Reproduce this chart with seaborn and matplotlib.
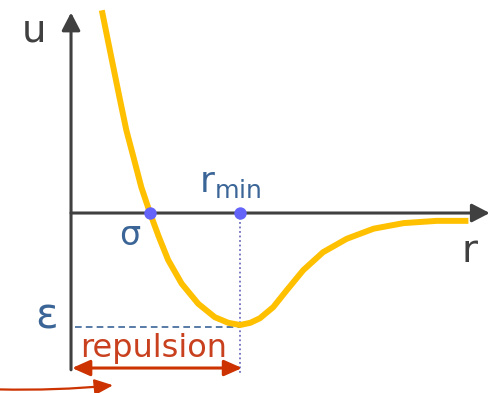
import matplotlib
matplotlib.use("Agg")
import matplotlib.pyplot as plt
import seaborn as sns

# Potential energy u(r) of a pair of molecules, in units where sigma = 1 and epsilon = 1
r_curve = [0.39, 0.49, 0.62, 0.70, 0.79, 0.89, 1.00, 1.11, 1.23, 1.40,
           1.61, 1.82, 1.99, 2.14, 2.27, 2.39, 2.56, 2.73, 2.94, 3.19, 3.49,
           3.83, 4.21, 4.63, 5.03]
u_curve = [1.81, 1.46, 1.01, 0.74, 0.50, 0.23, 0.00, -0.21, -0.42, -0.63,
           -0.81, -0.93, -0.98, -1.00, -0.98, -0.94, -0.84, -0.69, -0.51, -0.35,
           -0.23, -0.14, -0.09, -0.07, -0.07]

SIGMA = 1.00        # zero crossing of u(r)
R_MIN = 2.14        # position of the well minimum
EPSILON = -1.00     # well depth
marked_r = [SIGMA, R_MIN]
marked_u = [0.0, 0.0]

labels = {"u": "u", "r": "r", "sigma": "σ", "rmin": r"$\mathregular{r_{min}}$",
          "eps": "ε", "rep": "repulsion"}

GRAY = "#404040"
GOLD = "#FFC000"
BLUE_TXT = "#3b6597"
DOT = "#6464fa"
RED = "#c8401e"

sns.set_theme(style="white")
plt.rcParams["font.family"] = ["DejaVu Sans"]

fig = plt.figure(figsize=(4.91, 3.93), dpi=100)
ax = fig.add_axes([0, 0, 1, 1])
ax.set_xlim(-0.899, 5.316)
ax.set_ylim(-1.607, 1.902)
ax.axis("off")

# coordinate axes with arrow heads
axis_arrow = dict(arrowstyle="-|>,head_length=0.54,head_width=0.28",
                  mutation_scale=20, color=GRAY, lw=2.2, shrinkA=0, shrinkB=0)
ax.annotate("", xy=(0, 1.79), xytext=(0, -1.40), arrowprops=axis_arrow, zorder=2)
ax.annotate("", xy=(5.30, 0), xytext=(0, 0), arrowprops=axis_arrow, zorder=2)

# well depth and minimum position guides
ax.plot([0.05, R_MIN], [EPSILON - 0.015, EPSILON - 0.015], color="#3b6597",
        lw=1.2, ls=(0, (4, 2.5)), zorder=1)
ax.plot([R_MIN, R_MIN], [0, -1.446], color="#7070c0", lw=1.3,
        ls=(0, (1, 1.5)), zorder=1)

# the potential curve
sns.lineplot(x=r_curve, y=u_curve, color=GOLD, linewidth=4.3, ax=ax,
             solid_capstyle="butt", solid_joinstyle="round", zorder=3)

# sigma and r_min on the r axis
sns.scatterplot(x=marked_r, y=marked_u, color=DOT, s=80, linewidth=0, ax=ax,
                zorder=4)

# repulsion range arrow
ax.annotate("", xy=(2.165, -1.384), xytext=(0.013, -1.384),
            arrowprops=dict(arrowstyle="<|-|>,head_length=0.54,head_width=0.24",
                            mutation_scale=20, color="#cc3300", lw=2.2,
                            shrinkA=0, shrinkB=0), zorder=3)
ax.annotate("", xy=(0.532, -1.538), xytext=(-0.91, -1.575),
            arrowprops=dict(arrowstyle="-|>,head_length=0.56,head_width=0.24",
                            mutation_scale=20, color="#cc3300", lw=1.6,
                            shrinkA=0, shrinkB=0,
                            connectionstyle="arc3,rad=0.03"), zorder=3)

# text labels
ax.text(-0.468, 1.527, labels["u"], color=GRAY, fontsize=28, ha="center",
        va="baseline")
ax.text(5.05, -0.4375, labels["r"], color=GRAY, fontsize=28, ha="center",
        va="baseline")
ax.text(0.747, -0.286, labels["sigma"], color=BLUE_TXT, fontsize=24,
        ha="center", va="baseline")
ax.text(1.62, 0.1875, labels["rmin"], color=BLUE_TXT, fontsize=26,
        ha="left", va="baseline")
ax.text(-0.31, -1.03, labels["eps"], color=BLUE_TXT, fontsize=30,
        ha="center", va="baseline")
ax.text(1.04, -1.29, labels["rep"], color=RED, fontsize=23, ha="center",
        va="baseline")

fig.savefig("out.png", dpi=100)
